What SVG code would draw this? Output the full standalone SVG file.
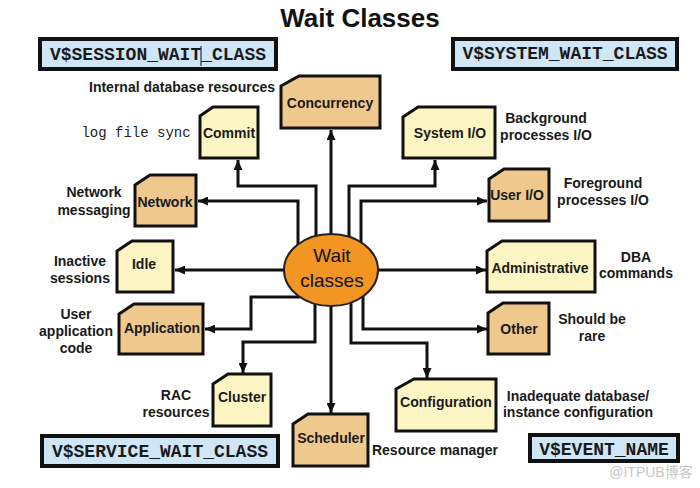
<svg xmlns="http://www.w3.org/2000/svg" width="700" height="488" viewBox="0 0 700 488">
<defs>
<style>
.lbl{font-family:"Liberation Sans",Arial,sans-serif;font-weight:bold;font-size:14px;fill:#1a1a1a;text-anchor:middle}
.nt{font-family:"Liberation Sans",Arial,sans-serif;font-weight:bold;font-size:14px;fill:#1a1a1a;text-anchor:middle}
.mono{font-family:"Liberation Mono","Courier New",monospace;font-weight:bold;font-size:18px;fill:#1a1a1a;text-anchor:middle}
.vbox{fill:#cfe6f7;stroke:#111;stroke-width:4}
.tan{fill:#efc88e;stroke:#111;stroke-width:3}
.yel{fill:#fdf6c4;stroke:#111;stroke-width:3}
.conn{fill:none;stroke:#111;stroke-width:3;marker-end:url(#ah)}
</style>
<marker id="ah" markerUnits="userSpaceOnUse" markerWidth="10" markerHeight="9" refX="10" refY="4.5" orient="auto">
<path d="M0,0 L10,4.5 L0,9 Z" fill="#111"/>
</marker>
</defs>
<rect width="700" height="488" fill="#fff"/>
<text x="360" y="27" style="font-family:'Liberation Sans',Arial,sans-serif;font-weight:bold;font-size:26px;fill:#111;text-anchor:middle">Wait Classes</text>

<g id="v-session">
<rect class="vbox" x="40" y="39" width="236" height="30"/>
<text class="mono" x="158" y="60">V$SESSION_WAIT_CLASS</text>
<line x1="201" y1="46" x2="201" y2="66" stroke="#111" stroke-width="1"/>
</g>
<g id="v-system">
<rect class="vbox" x="453" y="39" width="224" height="30"/>
<text class="mono" x="565" y="59">V$SYSTEM_WAIT_CLASS</text>
</g>
<g id="v-service">
<rect class="vbox" x="42" y="436" width="236" height="30"/>
<text class="mono" x="160" y="457">V$SERVICE_WAIT_CLASS</text>
</g>
<g id="v-event">
<rect class="vbox" x="530" y="435" width="148" height="26"/>
<text class="mono" x="604" y="455">V$EVENT_NAME</text>
</g>

<g id="connectors">
<path class="conn" d="M331,245 V130"/>
<path class="conn" d="M316,245 V186 H238 V160"/>
<path class="conn" d="M298,250 V201 H198"/>
<path class="conn" d="M349,245 V186 H435 V160"/>
<path class="conn" d="M361,250 V201 H487"/>
<path class="conn" d="M290,270 H175"/>
<path class="conn" d="M370,270 H486"/>
<path class="conn" d="M300,297 H251 V329 H205"/>
<path class="conn" d="M315,295 V342 H243 V373"/>
<path class="conn" d="M331,295 V413"/>
<path class="conn" d="M351,295 V343 H427 V378"/>
<path class="conn" d="M363,295 V329 H487"/>
</g>

<g id="wait-classes">
<ellipse cx="331" cy="270" rx="47" ry="36" fill="#f39522" stroke="#222" stroke-width="2"/>
<text x="332" y="262" style="font-family:'Liberation Sans',Arial,sans-serif;font-size:19px;fill:#111;text-anchor:middle">Wait</text>
<text x="332" y="287" style="font-family:'Liberation Sans',Arial,sans-serif;font-size:19px;fill:#111;text-anchor:middle">classes</text>
</g>

<g id="concurrency">
<path class="tan" d="M281,86 L299,76 H380 V128 H281 Z"/>
<text class="nt" x="330" y="108">Concurrency</text>
</g>
<g id="commit">
<path class="yel" d="M200,116 L213,107 H258 V158 H200 Z"/>
<text class="nt" x="229" y="138">Commit</text>
</g>
<g id="system-io">
<path class="yel" d="M403,117 L418,107 H495 V158 H403 Z"/>
<text class="nt" x="450" y="138">System I/O</text>
</g>
<g id="network">
<path class="tan" d="M135,185 L150,175 H196 V226 H135 Z"/>
<text class="nt" x="165" y="207">Network</text>
</g>
<g id="idle">
<path class="yel" d="M117,251 L132,241 H173 V292 H117 Z"/>
<text class="nt" x="144" y="269">Idle</text>
</g>
<g id="application">
<path class="tan" d="M119,314 L134,304 H203 V354 H119 Z"/>
<text class="nt" x="162" y="333">Application</text>
</g>
<g id="user-io">
<path class="tan" d="M489,179 L504,169 H549 V221 H489 Z"/>
<text class="nt" x="517" y="200">User I/O</text>
</g>
<g id="administrative">
<path class="yel" d="M487,251 L502,241 H595 V292 H487 Z"/>
<text class="nt" x="540" y="273">Administrative</text>
</g>
<g id="other">
<path class="tan" d="M488,313 L503,303 H549 V354 H488 Z"/>
<text class="nt" x="519" y="334">Other</text>
</g>
<g id="cluster">
<path class="yel" d="M213,384 L228,374 H271 V426 H213 Z"/>
<text class="nt" x="242" y="402">Cluster</text>
</g>
<g id="scheduler">
<path class="tan" d="M293,424 L308,414 H368 V466 H293 Z"/>
<text class="nt" x="331" y="443">Scheduler</text>
</g>
<g id="configuration">
<path class="yel" d="M396,389 L414,379 H496 V431 H396 Z"/>
<text class="nt" x="446" y="407">Configuration</text>
</g>

<g id="labels">
<text class="lbl" x="275" y="92" style="text-anchor:end">Internal database resources</text>
<text x="136" y="137" style="font-family:'Liberation Mono','Courier New',monospace;font-size:14px;fill:#222;text-anchor:middle">log file sync</text>
<text class="lbl" x="546" y="123">Background</text>
<text class="lbl" x="546" y="140">processes I/O</text>
<text class="lbl" x="94" y="197">Network</text>
<text class="lbl" x="94" y="215">messaging</text>
<text class="lbl" x="80" y="266">Inactive</text>
<text class="lbl" x="80" y="283">sessions</text>
<text class="lbl" x="76" y="319">User</text>
<text class="lbl" x="76" y="336">application</text>
<text class="lbl" x="76" y="353">code</text>
<text class="lbl" x="603" y="188">Foreground</text>
<text class="lbl" x="603" y="205">processes I/O</text>
<text class="lbl" x="636" y="262">DBA</text>
<text class="lbl" x="636" y="278">commands</text>
<text class="lbl" x="592" y="324">Should be</text>
<text class="lbl" x="592" y="341">rare</text>
<text class="lbl" x="176" y="400">RAC</text>
<text class="lbl" x="176" y="417">resources</text>
<text class="lbl" x="435" y="455">Resource manager</text>
<text class="lbl" x="578" y="401">Inadequate database/</text>
<text class="lbl" x="578" y="417">instance configuration</text>
<text x="651" y="477" style="font-family:'Liberation Sans','Noto Sans CJK SC',sans-serif;font-size:14px;fill:#c8c8c8;text-anchor:middle">@ITPUB博客</text>
</g>
</svg>
